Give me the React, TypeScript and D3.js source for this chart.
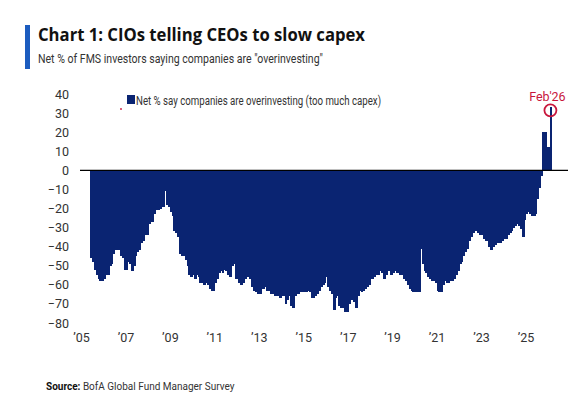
import React, { useEffect, useRef } from "react";
import * as d3 from "d3";

// monthly FMS readings, first value is Jun 2005, last is Feb 2026
const firstMonth = new Date(2005, 5, 1);
const netOverinvesting = [
  -46, -48, -52, -55, -57, -58, -58, // 2005 (Jun-Dec)
  -57, -55, -55, -50, -49, -44, -42, -42, -42, -45, -46, -52, // 2006
  -52, -48, -49, -53, -50, -45, -43, -42, -38, -37, -34, -34, // 2007
  -28, -27, -27, -23, -21, -21, -20, -19, -19, -11, -18, -19, // 2008
  -22, -24, -32, -33, -35, -44, -45, -45, -47, -50, -55, -56, // 2009
  -55, -57, -55, -56, -59, -59, -60, -59, -60, -62, -63, -63, // 2010
  -59, -57, -54, -53, -54, -52, -53, -55, -56, -50, -49, -57, // 2011
  -57, -59, -60, -59, -57, -56, -55, -57, -61, -63, -64, -65, // 2012
  -65, -62, -62, -61, -63, -63, -65, -65, -66, -66, -66, -67, // 2013
  -66, -66, -70, -68, -66, -71, -72, -66, -65, -65, -64, -64, // 2014
  -64, -64, -63, -64, -67, -67, -66, -65, -63, -61, -60, -59, // 2015
  -56, -61, -63, -65, -73, -67, -66, -71, -72, -72, -74, -74, // 2016
  -70, -68, -68, -69, -72, -66, -63, -64, -63, -62, -61, -60, // 2017
  -57, -57, -56, -55, -55, -53, -54, -57, -55, -52, -53, -55, // 2018
  -54, -53, -54, -54, -55, -55, -57, -58, -60, -62, -63, -64, // 2019
  -64, -64, -64, -41, -49, -53, -54, -56, -57, -58, -58, -59, // 2020
  -63, -64, -64, -60, -58, -59, -59, -58, -58, -57, -55, -53, // 2021
  -49, -48, -45, -43, -41, -37, -35, -33, -32, -32, -33, -34, // 2022
  -34, -36, -37, -37, -40, -42, -40, -39, -38, -38, -38, -37, // 2023
  -36, -36, -34, -33, -32, -30, -29, -28, -29, -31, -35, -26, // 2024
  -23, -22, -23, -24, -24, -23, -15, -9, -3, 20, 20, 12, // 2025
  12, 33, // 2026 (Jan-Feb)
];

const yearTicks = [2005, 2007, 2009, 2011, 2013, 2015, 2017, 2019, 2021, 2023, 2025];
const yTicks = [40, 30, 20, 10, 0, -10, -20, -30, -40, -50, -60, -70, -80];

const legendLabel = "Net % say companies are overinvesting (too much capex)";
const calloutLabel = "Feb'26";

const App = () => {
  const chartRef = useRef(null);

  useEffect(() => {
    const width = 581;
    const height = 395;
    const navy = "#0a2472";
    const red = "#c8163c";
    const font = "Roboto, 'Liberation Sans', sans-serif";

    const months = netOverinvesting.map((v, i) => ({
      date: d3.timeMonth.offset(firstMonth, i),
      value: v,
    }));

    d3.select(chartRef.current).select("svg").remove();

    const svg = d3.select(chartRef.current)
      .append("svg")
      .attr("width", width)
      .attr("height", height)
      .style("position", "absolute")
      .style("left", "0px")
      .style("top", "0px")
      .style("background", "#fff");

    const x = d3.scaleTime()
      .domain([new Date(2005, 0, 1), new Date(2026, 11, 1)])
      .range([73, 560]);

    const y = d3.scaleLinear()
      .domain([-80, 40])
      .range([315, 86]);

    // title block
    svg.append("rect")
      .attr("x", 17).attr("y", 17)
      .attr("width", 5).attr("height", 44)
      .attr("fill", "#1c5cbf");

    svg.append("text")
      .attr("x", 30).attr("y", 33)
      .attr("font-family", "'Open Sans', sans-serif")
      .attr("font-weight", 700)
      .attr("font-size", 18)
      .attr("fill", "#111")
      .attr("textLength", 327)
      .attr("lengthAdjust", "spacingAndGlyphs")
      .text("Chart 1: CIOs telling CEOs to slow capex");

    svg.append("text")
      .attr("x", 30).attr("y", 55)
      .attr("font-family", font)
      .attr("font-size", 13)
      .attr("fill", "#333")
      .attr("textLength", 285)
      .attr("lengthAdjust", "spacingAndGlyphs")
      .text("Net % of FMS investors saying companies are \"overinvesting\"");

    // bars (slightly overlapped so the months read as one filled block)
    svg.append("g")
      .attr("shape-rendering", "crispEdges")
      .selectAll("rect")
      .data(months)
      .enter()
      .append("rect")
      .attr("x", d => x(d.date))
      .attr("width", d => x(d3.timeMonth.offset(d.date, 1)) - x(d.date) + 1)
      .attr("y", d => y(Math.max(0, d.value)))
      .attr("height", d => Math.abs(y(d.value) - y(0)))
      .attr("fill", navy);

    // zero line
    svg.append("line")
      .attr("x1", 72).attr("x2", 560)
      .attr("y1", y(0)).attr("y2", y(0))
      .attr("stroke", "#000")
      .attr("stroke-width", 1.3);

    // y axis
    const yAxis = svg.append("g")
      .attr("transform", "translate(61,0)")
      .call(d3.axisLeft(y).tickValues(yTicks).tickSize(0).tickPadding(0));
    yAxis.select(".domain").remove();
    yAxis.selectAll("text")
      .attr("font-family", font)
      .attr("font-size", 12.5)
      .attr("fill", "#333");

    // x axis
    const xAxis = svg.append("g")
      .attr("transform", "translate(0,325)")
      .call(d3.axisBottom(x)
        .tickValues(yearTicks.map(yr => new Date(yr, 0, 1)))
        .tickFormat(d => "\u2019" + d3.timeFormat("%y")(d))
        .tickSize(0)
        .tickPadding(0));
    xAxis.select(".domain").remove();
    xAxis.selectAll("text")
      .attr("font-family", font)
      .attr("font-size", 12.5)
      .attr("fill", "#333");

    // legend
    svg.append("rect")
      .attr("x", 119).attr("y", 87)
      .attr("width", 8).attr("height", 9)
      .attr("fill", navy);
    svg.append("circle")
      .attr("cx", 113).attr("cy", 101)
      .attr("r", 0.9)
      .attr("fill", red);
    svg.append("text")
      .attr("x", 128).attr("y", 97)
      .attr("font-family", font)
      .attr("font-size", 12.5)
      .attr("fill", "#333")
      .attr("textLength", 245)
      .attr("lengthAdjust", "spacingAndGlyphs")
      .text(legendLabel);

    // Feb'26 callout
    const last = months[months.length - 1];
    const cx = x(last.date) + (x(d3.timeMonth.offset(last.date, 1)) - x(last.date)) / 2;
    svg.append("circle")
      .attr("cx", cx)
      .attr("cy", y(last.value) + 3)
      .attr("r", 6)
      .attr("fill", "none")
      .attr("stroke", red)
      .attr("stroke-width", 1.8);
    svg.append("text")
      .attr("x", cx - 3).attr("y", 93)
      .attr("text-anchor", "middle")
      .attr("font-family", font)
      .attr("font-size", 12.5)
      .attr("fill", red)
      .text(calloutLabel);

    // source
    const src = svg.append("text")
      .attr("x", 38).attr("y", 382)
      .attr("font-family", font)
      .attr("font-size", 10)
      .attr("fill", "#333");
    src.append("tspan").attr("font-weight", 700).attr("fill", "#111").text("Source:");
    src.append("tspan").text(" BofA Global Fund Manager Survey");
  }, []);

  return <div ref={chartRef} style={{ position: "relative", width: 581, height: 395 }}></div>;
};

export default App;
